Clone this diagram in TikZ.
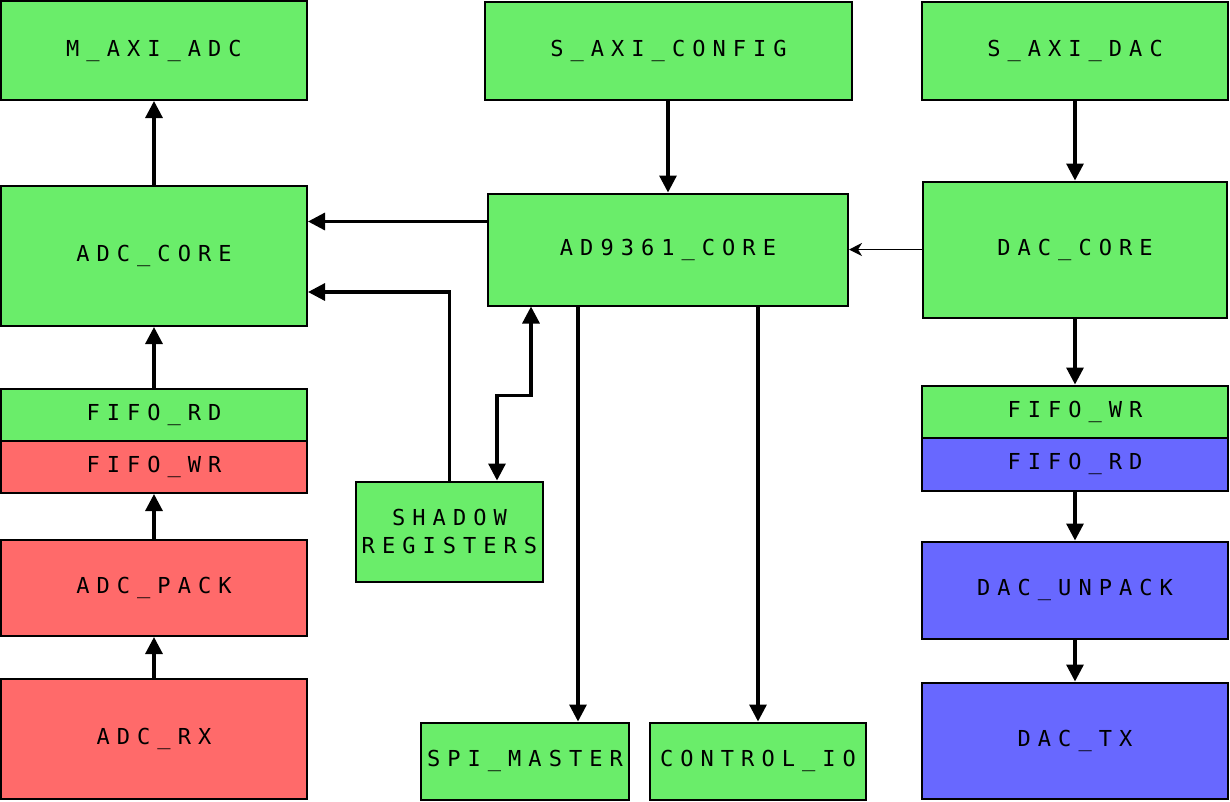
\documentclass[tikz,border=0pt]{standalone}
\usepackage{fontspec}
\usepackage{tikz}
\usetikzlibrary{arrows.meta}
\usetikzlibrary{positioning}
\newfontfamily\blockfont[LetterSpace=32]{DejaVu Sans Mono}
\definecolor{ipgreen}{RGB}{106,237,106}
\definecolor{ipred}{RGB}{255,106,106}
\definecolor{ipblue}{RGB}{104,104,255}
\tikzstyle{every node}+=[inner sep=0pt]
\tikzstyle{block} = [rectangle, draw, line width=2pt, fill=ipgreen, font=\blockfont\fontsize{22}{28}\selectfont, text centered, minimum width=306pt]
\tikzstyle{line} = [draw, line width=3.2pt, -{Triangle[length=17pt,width=17pt]}]
\tikzstyle{thinline} = [draw, line width=1.5pt, -{Stealth[length=13pt,width=13pt,inset=4pt]}]

\begin{document}
\begin{tikzpicture}[x=1pt, y=-1pt, auto, every text node part/.style={align=center}]
            \useasboundingbox (0,0) rectangle (1230,801);
            % Place nodes
            \node [block, minimum height=99pt] (madc) at (154,50.5) {M\_AXI\_ADC};
            \node [block, below of=madc, node distance=205.5pt, minimum height=140pt] (adccore) {ADC\_CORE};
            \node [block, below of=adccore, node distance=159pt, minimum height=52pt] (fifordl) {FIFO\_RD};
            \node [block, fill=ipred, below of=fifordl, node distance=52pt, minimum height=52pt] (fifowrl) {FIFO\_WR};
            \node [block, fill=ipred, below of=fifowrl, node distance=121pt, minimum height=96pt] (adcpack) {ADC\_PACK};
            \node [block, fill=ipred, below of=adcpack, node distance=151pt, minimum height=120pt] (adcrx) {ADC\_RX};
            \node [block, right of=madc, node distance=514.5pt, minimum width=367pt, minimum height=98pt] (saxicfg) {S\_AXI\_CONFIG};
            \node [block, below of=saxicfg, node distance=199pt, xshift=-0.5pt, minimum width=360pt, minimum height=112pt] (core) {AD9361\_CORE};
            \node [block, below of=core, node distance=282pt, xshift=-218.5pt, minimum width=187pt, minimum height=100pt] (shadow) {SHADOW\\REGISTERS};
            \node [block, below of=core, node distance=511.5pt, xshift=-143pt, minimum width=208pt, minimum height=77pt] (spi) {SPI\_MASTER};
            \node [block, right of=spi, node distance=233pt, minimum width=216pt, minimum height=77pt] (ctrl) {CONTROL\_IO};
            \node [block, right of=saxicfg, node distance=406.5pt, minimum height=98pt] (saxidac) {S\_AXI\_DAC};
            \node [block, below of=saxidac, node distance=199pt, minimum width=304pt, minimum height=136pt] (daccore) {DAC\_CORE};
            \node [block, below of=daccore, node distance=162pt, minimum height=52pt] (fifowrr) {FIFO\_WR};
            \node [block, fill=ipblue, below of=fifowrr, node distance=52.5pt, minimum height=53pt] (fifordr) {FIFO\_RD};
            \node [block, fill=ipblue, below of=fifordr, node distance=126pt, minimum height=97pt] (dacunpack) {DAC\_UNPACK};
            \node [block, fill=ipblue, below of=dacunpack, node distance=150.5pt, minimum height=116pt] (dactx) {DAC\_TX};
            % Draw edges
            \path [line] (adccore) -- (madc);
            \path [line] (fifordl) -- (adccore);
            \path [line] (adcpack) -- (fifowrl);
            \path [line] (adcrx) -- (adcpack);
            \path [line] (saxicfg.south -| core.north) -- (core.north);
            \path [line] ([yshift=28pt]core.west) -- ([yshift=28pt]core.west -| adccore.east);
            \path [line] (shadow.north) |- ([yshift=-36pt]adccore.east);
            \path [line, {Triangle[length=17pt,width=17pt]}-{Triangle[length=17pt,width=17pt]}] ([xshift=-137pt]core.south) -- ++(0,-89pt) -| ([xshift=47.5pt]shadow.north);
            \path [line] ([xshift=-90pt]core.south) -- ([xshift=-90pt]core.south |- spi.north);
            \path [line] (ctrl.north |- core.south) -- (ctrl.north);
            \path [thinline] (daccore) -- (core);
            \path [line] (saxidac) -- (daccore);
            \path [line] (daccore) -- (fifowrr);
            \path [line] (fifordr) -- (dacunpack);
            \path [line] (dacunpack) -- (dactx);
\end{tikzpicture}
\end{document}
